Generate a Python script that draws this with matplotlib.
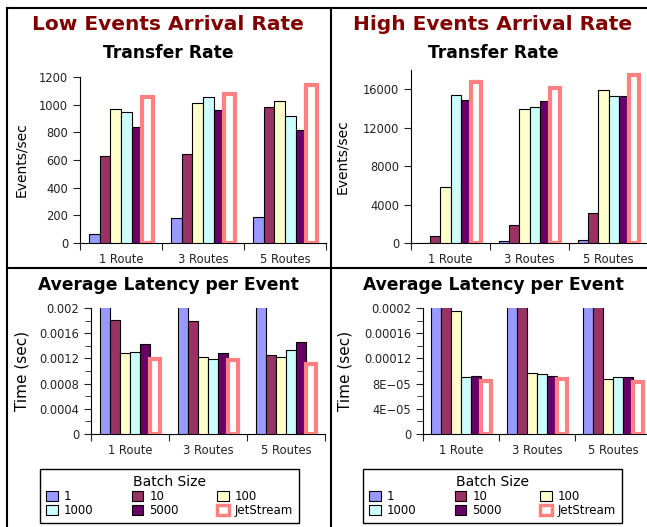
import matplotlib
matplotlib.use('Agg')
import matplotlib.pyplot as plt
from matplotlib.lines import Line2D
from matplotlib.patches import Patch
import numpy as np

routes = ['1 Route', '3 Routes', '5 Routes']
batch = ['1', '10', '100', '1000', '5000', 'JetStream']
colors = ['#9999ff', '#993366', '#ffffcc', '#ccffff', '#660066', 'white']
jet_edge = '#ff8080'

# transfer rate, events/sec (one list per batch size, one value per route count)
low_rate = [[65, 180, 190],
            [630, 640, 980],
            [968, 1010, 1030],
            [950, 1055, 920],
            [840, 965, 820],
            [1055, 1080, 1140]]
high_rate = [[50, 200, 300],
             [700, 1900, 3100],
             [5850, 13900, 15950],
             [15350, 14100, 15300],
             [14850, 14800, 15250],
             [16750, 16100, 17450]]
# average latency per event, sec (blue/red bars go off the top of the axis)
low_lat = [[0.004, 0.004, 0.004],
           [0.00181, 0.0018, 0.00126],
           [0.00128, 0.00123, 0.00122],
           [0.0013, 0.00119, 0.00133],
           [0.00143, 0.00128, 0.00146],
           [0.00119, 0.00117, 0.00111]]
high_lat = [[0.0004, 0.0004, 0.0004],
            [0.0004, 0.0004, 0.0004],
            [0.000195, 0.000097, 0.000087],
            [0.00009, 0.000096, 0.00009],
            [0.000092, 0.000092, 0.00009],
            [0.000084, 0.000087, 0.000082]]

low_rate_ticks = [0, 200, 400, 600, 800, 1000, 1200]
high_rate_ticks = [0, 4000, 8000, 12000, 16000]
low_lat_ticks = [0, 0.0004, 0.0008, 0.0012, 0.0016, 0.002]
low_lat_labels = ['0', '0.0004', '0.0008', '0.0012', '0.0016', '0.002']
high_lat_ticks = [0, 0.00004, 0.00008, 0.00012, 0.00016, 0.0002]
high_lat_labels = ['0', '4E\u221205', '8E\u221205', '0.00012', '0.00016', '0.0002']

W, H = 647, 527
fig = plt.figure(figsize=(W / 100, H / 100), dpi=100)


def px_axes(l, r, b, t):
    return fig.add_axes([l / W, 1 - b / H, (r - l) / W, (b - t) / H])


def draw(ax, data, ylim, ticks, labels, ylabel, ylsize, minor=None):
    x = np.arange(len(routes))
    w = 0.13
    for i, vals in enumerate(data):
        pos = x + (i - 2.5) * w
        if i == 5:
            ax.bar(pos, vals, w, facecolor='white', edgecolor=jet_edge, linewidth=3, zorder=3)
        else:
            ax.bar(pos, vals, w, facecolor=colors[i], edgecolor='black', linewidth=0.8, zorder=3)
    ax.set_xlim(-0.5, 2.5)
    ax.set_ylim(*ylim)
    ax.set_yticks(ticks)
    if labels is not None:
        ax.set_yticklabels(labels)
    if minor is not None:
        ax.set_yticks(minor, minor=True)
        ax.tick_params(axis='y', which='minor', length=4)
    ax.set_xticks([-0.5, 0.5, 1.5, 2.5])
    ax.set_xticklabels([])
    ax.set_xticks(x, minor=True)
    ax.set_xticklabels(routes, minor=True)
    ax.tick_params(axis='x', which='minor', length=0, pad=7)
    ax.tick_params(axis='x', which='major', length=5)
    ax.tick_params(axis='both', which='both', labelsize=8.3, colors='#222222')
    ax.tick_params(axis='y', which='major', length=5)
    ax.spines['top'].set_visible(False)
    ax.spines['right'].set_visible(False)
    ax.spines['left'].set_clip_on(False)
    ax.set_ylabel(ylabel, fontsize=ylsize)
    ax.set_facecolor('none')


ax1 = px_axes(80, 326, 243, 77)
draw(ax1, low_rate, (0, 1200), low_rate_ticks, None, 'Events/sec', 10)
ax2 = px_axes(411, 648, 243, 70)
draw(ax2, high_rate, (0, 18000), high_rate_ticks, None, 'Events/sec', 10)
ax3 = px_axes(91, 325, 434, 308)
draw(ax3, low_lat, (0, 0.002), low_lat_ticks, low_lat_labels, 'Time (sec)', 11,
     minor=np.arange(0.0002, 0.002, 0.0004))
ax4 = px_axes(423, 651, 434, 308)
draw(ax4, high_lat, (0, 0.0002), high_lat_ticks, high_lat_labels, 'Time (sec)', 11,
     minor=np.arange(0.00002, 0.0002, 0.00004))
ax1.yaxis.labelpad = 8
ax2.yaxis.labelpad = 10
ax3.yaxis.labelpad = 7
ax4.yaxis.labelpad = 8

# titles
fig.text(168 / W, 1 - 25 / H, 'Low Events Arrival Rate', ha='center', va='center',
         fontsize=14.5, fontweight='bold', color='#800000')
fig.text(493 / W, 1 - 25 / H, 'High Events Arrival Rate', ha='center', va='center',
         fontsize=14.5, fontweight='bold', color='#800000')
fig.text(168 / W, 1 - 53 / H, 'Transfer Rate', ha='center', va='center',
         fontsize=12.3, fontweight='bold')
fig.text(493 / W, 1 - 53 / H, 'Transfer Rate', ha='center', va='center',
         fontsize=12.3, fontweight='bold')
fig.text(168 / W, 1 - 285 / H, 'Average Latency per Event', ha='center', va='center',
         fontsize=12.3, fontweight='bold')
fig.text(493 / W, 1 - 285 / H, 'Average Latency per Event', ha='center', va='center',
         fontsize=12.3, fontweight='bold')

# legends (column-wise order so rows read 1,10,100 / 1000,5000,JetStream)
order = [0, 3, 1, 4, 2, 5]
handles = []
for i in order:
    if i == 5:
        handles.append(Patch(facecolor='white', edgecolor=jet_edge, linewidth=2.5, label=batch[i]))
    else:
        handles.append(Patch(facecolor=colors[i], edgecolor='black', linewidth=0.8, label=batch[i]))
for ax, x0 in [(ax3, 40), (ax4, 363)]:
    leg = ax.legend(handles=handles, ncol=3, title='Batch Size', fontsize=8.5,
                    title_fontsize=10, loc='lower left', mode='expand',
                    bbox_to_anchor=(x0 / W, 1 - 523 / H, 259 / W, 64 / H),
                    bbox_transform=fig.transFigure, fancybox=False, framealpha=1,
                    edgecolor='black', handlelength=1.0, handleheight=1.0,
                    handletextpad=0.5, labelspacing=0.1, borderaxespad=0,
                    borderpad=0.5)
    leg.get_frame().set_linewidth(1.0)

# panel frame lines
lw = 1.5
fig.add_artist(Line2D([7 / W, 1], [1 - 8 / H, 1 - 8 / H], color='black', lw=lw))
fig.add_artist(Line2D([7 / W, 7 / W], [0, 1 - 8 / H], color='black', lw=lw))
fig.add_artist(Line2D([331 / W, 331 / W], [0, 1 - 8 / H], color='black', lw=lw))
fig.add_artist(Line2D([7 / W, 1], [1 - 268 / H, 1 - 268 / H], color='black', lw=lw))

fig.savefig('out.png', dpi=100)
